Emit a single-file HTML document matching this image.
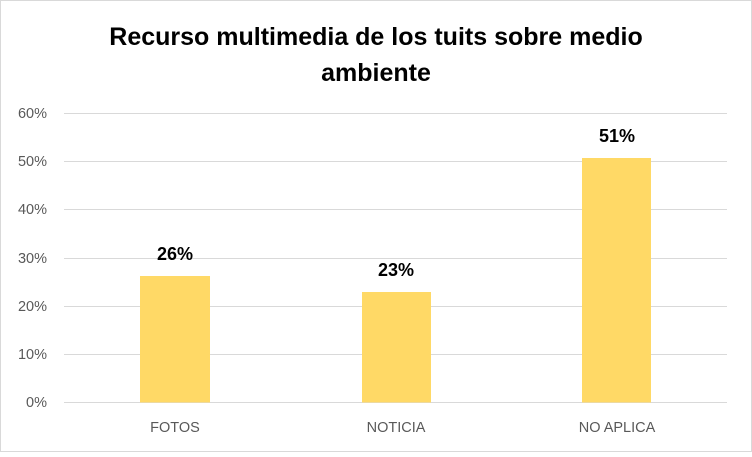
<!DOCTYPE html>
<html><head><style>
body{margin:0;background:#fff}
</style></head><body>
<svg width="752" height="452" xmlns="http://www.w3.org/2000/svg" font-family="Liberation Sans, sans-serif">
<rect x="0.5" y="0.5" width="751" height="451" fill="#fff" stroke="#d9d9d9"/>
<text x="376" y="45" text-anchor="middle" font-size="25" font-weight="bold" fill="#000">Recurso multimedia de los tuits sobre medio</text>
<text x="376" y="81" text-anchor="middle" font-size="25" font-weight="bold" fill="#000">ambiente</text>
<g stroke="#d9d9d9" stroke-width="1">
<line x1="64" x2="727" y1="113.5" y2="113.5"/>
<line x1="64" x2="727" y1="161.5" y2="161.5"/>
<line x1="64" x2="727" y1="209.5" y2="209.5"/>
<line x1="64" x2="727" y1="258.5" y2="258.5"/>
<line x1="64" x2="727" y1="306.5" y2="306.5"/>
<line x1="64" x2="727" y1="354.5" y2="354.5"/>
<line x1="64" x2="727" y1="402.5" y2="402.5"/>
</g>
<g font-size="14.5" fill="#595959" text-anchor="end">
<text x="47" y="118">60%</text><text x="47" y="166">50%</text><text x="47" y="214">40%</text>
<text x="47" y="263">30%</text><text x="47" y="311">20%</text><text x="47" y="359">10%</text><text x="47" y="407">0%</text>
</g>
<g fill="#FFD966">
<rect x="140" y="276" width="70" height="126.5"/>
<rect x="362" y="292" width="69" height="110.5"/>
<rect x="582" y="158" width="69" height="244.5"/>
</g>
<g font-size="18" font-weight="bold" fill="#000" text-anchor="middle">
<text x="175" y="260">26%</text><text x="396" y="276">23%</text><text x="617" y="142">51%</text>
</g>
<g font-size="14.5" fill="#595959" text-anchor="middle">
<text x="175" y="432">FOTOS</text><text x="396" y="432">NOTICIA</text><text x="617" y="432">NO APLICA</text>
</g>
</svg>
</body></html>
